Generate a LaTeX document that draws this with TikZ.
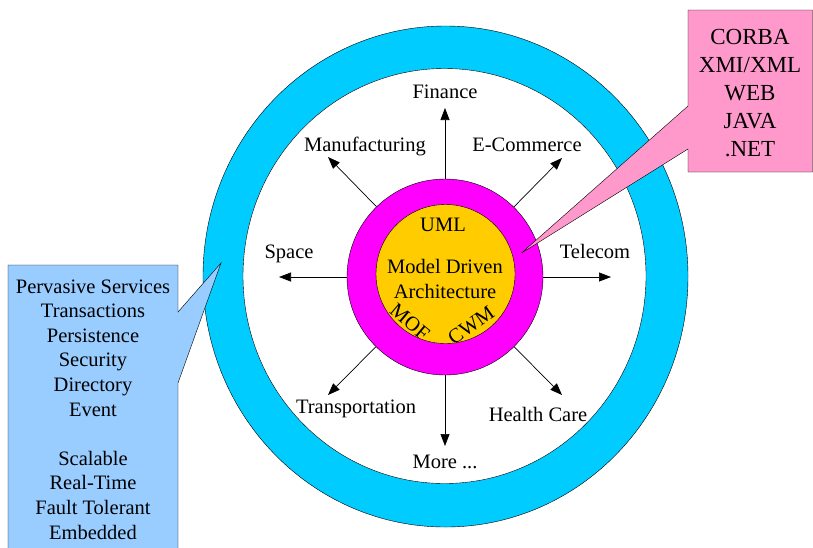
\documentclass[tikz,border=0pt]{standalone}
\usepackage{fontspec}
\setmainfont{Liberation Serif}
\usetikzlibrary{arrows.meta}
\definecolor{ringcyan}{HTML}{00CCFF}
\definecolor{coremagenta}{HTML}{FF00FF}
\definecolor{mdayellow}{HTML}{FFCC00}
\definecolor{calloutpink}{HTML}{FF99CC}
\definecolor{calloutblue}{HTML}{99CCFF}
\begin{document}
\begin{tikzpicture}[x=1pt,y=-1pt,
    sectorname/.style={font=\fontsize{20.5}{24.6}\selectfont, anchor=base, inner sep=0pt},
    boxtext/.style={font=\fontsize{20.5}{24.6}\selectfont, align=center, inner sep=0pt},
    spoke/.style={-{Triangle[length=12pt,width=9pt]}, line width=0.7pt}]
  \clip (0,0) rectangle (813,547);

  % Define the rings
  \def\outerRing{(445.5,276.5) ellipse [x radius=242.5, y radius=250.5]}
  \def\innerRing{(444.5,276) ellipse [x radius=201.5, y radius=207.5]}

  % Fill the outer ring, keep the inside white
  \begin{scope}
    \fill[ringcyan] \outerRing;
    \fill[white] \innerRing;
  \end{scope}
  \draw \outerRing;
  \draw \innerRing;

  % Core circles
  \node[circle, draw, fill=coremagenta, minimum size=196pt, inner sep=0pt] (core) at (445,277) {};
  \node[circle, draw, fill=mdayellow, minimum size=139pt, inner sep=0pt] (mda) at (445.5,274) {};
  \node[sectorname] (uml) at (443,231) {UML};
  \node[boxtext] (mdatext) at (445,279) {Model Driven\\Architecture};
  \node[boxtext, rotate=-40] (mof) at (410,322) {MOF};
  \node[boxtext, rotate=35] (cwm) at (471,325) {CWM};

  % Arrow tips
  \coordinate (finTip) at (445,108);
  \coordinate (ecomTip) at (562,158);
  \coordinate (manTip) at (328,157);
  \coordinate (spaceTip) at (279,277);
  \coordinate (telTip) at (611,277);
  \coordinate (transTip) at (328,395);
  \coordinate (moreTip) at (445,446);
  \coordinate (healthTip) at (562,395);

  \draw[spoke] (core) -- (finTip);
  \draw[spoke] (core) -- (ecomTip);
  \draw[spoke] (core) -- (manTip);
  \draw[spoke] (core) -- (spaceTip);
  \draw[spoke] (core) -- (telTip);
  \draw[spoke] (core) -- (transTip);
  \draw[spoke] (core) -- (moreTip);
  \draw[spoke] (core) -- (healthTip);

  % Sectors round the core
  \node[sectorname] (finance) at (445,98) {Finance};
  \node[sectorname] (manufacturing) at (365,151) {Manufacturing};
  \node[sectorname] (ecommerce) at (527,151) {E-Commerce};
  \node[sectorname] (space) at (289,258) {Space};
  \node[sectorname] (telecom) at (595,258) {Telecom};
  \node[sectorname] (transport) at (356,413) {Transportation};
  \node[sectorname] (health) at (538,421) {Health Care};
  \node[sectorname] (more) at (445,468) {More ...};

  % Callouts
  \draw[fill=calloutpink] (688,10) -- (812.5,10) -- (812.5,172) -- (688,172)
    -- (688,149) -- (521.5,253) -- (688,106) -- cycle;
  \node[boxtext, font=\fontsize{23}{28}\selectfont] (platforms) at (750,93)
    {CORBA\\XMI/XML\\WEB\\JAVA\\.NET};

  \draw[fill=calloutblue] (8,265) -- (178,265) -- (178,312) -- (221,263)
    -- (178,383) -- (178,560) -- (8,560) -- cycle;
  \node[boxtext] (services) at (93,409.5)
    {Pervasive Services\\Transactions\\Persistence\\Security\\Directory\\Event\\[24.6pt]
     Scalable\\Real-Time\\Fault Tolerant\\Embedded};
\end{tikzpicture}
\end{document}
